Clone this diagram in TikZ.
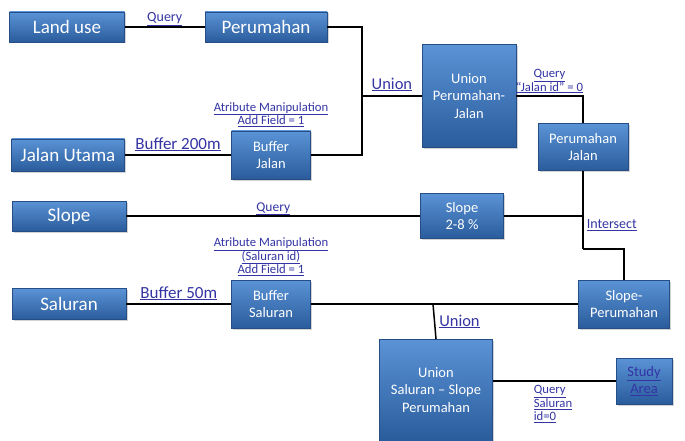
\documentclass[tikz,border=0pt]{standalone}
\usepackage{fontspec}
\setmainfont{Carlito}
\usetikzlibrary{positioning}
\usetikzlibrary{shadows}
\definecolor{box-top}{HTML}{5A93D6}
\definecolor{box-bottom}{HTML}{2A5C9C}
\definecolor{link-blue}{HTML}{3434A4}
\newcommand{\lnk}[1]{\underline{#1}}
\tikzset{
  proc-box/.style={top color=box-top, bottom color=box-bottom, draw=box-bottom!85!black,
    line width=0.3pt, text=white, align=center, inner sep=0pt,
    drop shadow={shadow xshift=1.5pt, shadow yshift=-1.5pt, opacity=0.35},
    font=\fontsize{14.5}{17.5}\selectfont},
  big-box/.style={proc-box, font=\fontsize{19}{22}\selectfont},
  op-label/.style={text=link-blue, align=center, inner sep=1pt, font=\fontsize{12.7}{13.5}\selectfont},
  flow/.style={line width=1.5pt, black},
}

\begin{document}
\begin{tikzpicture}[x=1pt, y=-1pt]
\useasboundingbox (0,0) rectangle (685,441);
% boxes
\node[big-box, minimum width=115, minimum height=30] at (67,27) (land use) {Land use};
\node[big-box, minimum width=122, minimum height=30] at (266,27) (perumahan) {Perumahan};
\node[big-box, minimum width=113, minimum height=32] at (68,155) (jalan utama) {Jalan Utama};
\node[proc-box, minimum width=79, minimum height=48] at (271,155) (buffer jalan) {Buffer\\Jalan};
\node[proc-box, minimum width=94, minimum height=103] at (469,96) (union pj) {Union\\Perumahan-\\Jalan};
\node[proc-box, minimum width=90, minimum height=47] at (583,147) (perumahan jalan) {Perumahan\\Jalan};
\node[big-box, minimum width=114, minimum height=30] at (69,216) (slope) {Slope};
\node[proc-box, minimum width=83, minimum height=45] at (462,216) (slope 28) {Slope\\2-8 \%};
\node[big-box, minimum width=114, minimum height=31] at (69,304) (saluran) {Saluran};
\node[proc-box, minimum width=79, minimum height=48] at (271,304) (buffer saluran) {Buffer\\Saluran};
\node[proc-box, minimum width=91, minimum height=48] at (624,304) (slope perumahan) {Slope-\\Perumahan};
\node[proc-box, minimum width=113, minimum height=102] at (436,390) (union sp) {Union\\Saluran -- Slope\\Perumahan};
\node[proc-box, minimum width=56, minimum height=46] at (644,381) (study area)
  {\textcolor{link-blue}{\lnk{Study}}\\\textcolor{link-blue}{\lnk{Area}}};
% junctions
\coordinate (j1) at (362,96);
\coordinate (j2) at (583,249);
\coordinate (j3) at (433,304);
% connectors
\draw[flow] (land use) -- (perumahan)
  node[op-label, midway, above=-1pt, font=\fontsize{14}{15}\selectfont] {\lnk{Query}};
\draw[flow] (perumahan.east) -| (j1) |- (buffer jalan.east);
\draw[flow] (j1) -- (union pj.west)
  node[op-label, midway, above=3pt, font=\fontsize{16.5}{17}\selectfont] {\lnk{Union}};
\draw[flow] (jalan utama) -- (buffer jalan)
  node[op-label, midway, above=2pt, font=\fontsize{17}{18}\selectfont] {\lnk{Buffer 200m}};
\node[op-label, above=3pt of buffer jalan] (attr jalan) {\lnk{Atribute Manipulation}\\\lnk{Add Field = 1}};
\draw[flow] (union pj.east) -| (perumahan jalan.north)
  node[op-label, pos=0.25, above=1pt] {\lnk{Query}\\\lnk{``Jalan id'' = 0}};
\draw[flow] (perumahan jalan.south) -- (j2)
  node[op-label, pos=0.7, right=2pt, font=\fontsize{14}{15}\selectfont] {\lnk{Intersect}};
\draw[flow] (j2) -| (slope perumahan.north);
\draw[flow] (slope) -- (slope 28)
  node[op-label, midway, above=-1pt, font=\fontsize{13.5}{15}\selectfont] {\lnk{Query}};
\draw[flow] (slope 28.east) -- (slope 28.east -| j2);
\draw[flow] (saluran) -- (buffer saluran)
  node[op-label, midway, above=2pt, font=\fontsize{17}{18}\selectfont] {\lnk{Buffer 50m}};
\node[op-label, above=3pt of buffer saluran] (attr saluran)
  {\lnk{Atribute Manipulation}\\\lnk{(Saluran id)}\\\lnk{Add Field = 1}};
\draw[flow] (buffer saluran) -- (slope perumahan);
\draw[flow] (j3) -- (union sp.north)
  node[op-label, midway, right=3pt, font=\fontsize{16.5}{17}\selectfont] {\lnk{Union}};
\draw[flow] (study area.west -| union sp.east) -- (study area.west)
  node[op-label, pos=0.32, anchor=north west, align=left, yshift=-3pt] {\lnk{Query}\\\lnk{Saluran}\\\lnk{id=0}};
\end{tikzpicture}
\end{document}
